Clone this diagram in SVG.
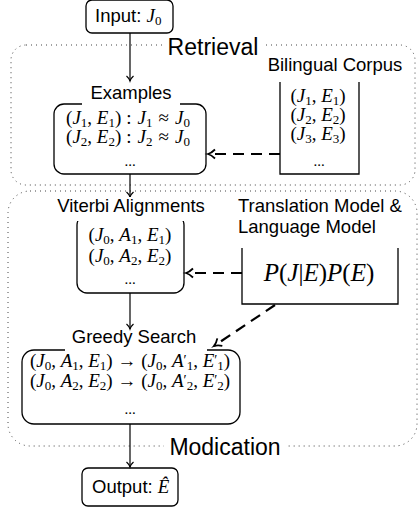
<svg xmlns="http://www.w3.org/2000/svg" width="419" height="509" viewBox="0 0 419 509">
<defs>
<style>
.lbl{font-family:"Liberation Sans",Arial,sans-serif;font-size:18.5px;fill:#000}
.big{font-size:23px}
.m{font-family:"Liberation Serif","Times New Roman",serif;font-size:19px;fill:#000}
.dots{font-size:15px}
.pje{font-size:25px}
.i{font-style:italic}
.s{font-size:13px}
.pr{font-size:14px}
.box{fill:none;stroke:#000;stroke-width:1.3}
.region{fill:none;stroke:#444;stroke-width:1;stroke-dasharray:1 4}
.bg{fill:#fff;stroke:none}
.arrow{fill:none;stroke:#000;stroke-width:1.2;marker-end:url(#ah)}
.dash{fill:none;stroke:#000;stroke-width:2.2;stroke-dasharray:11 7;marker-end:url(#ahd)}
</style>
<marker id="ah" markerUnits="userSpaceOnUse" viewBox="-7 -5 8 10" refX="0" refY="0" markerWidth="8" markerHeight="10" orient="auto" overflow="visible">
<path d="M-5,-3.5 C-3,-1.2 -1,-0.3 0,0 C-1,0.3 -3,1.2 -5,3.5" fill="none" stroke="#000" stroke-width="1.2"/>
</marker>
<marker id="ahd" markerUnits="userSpaceOnUse" viewBox="-9 -6 10 12" refX="0" refY="0" markerWidth="10" markerHeight="12" orient="auto" overflow="visible">
<path d="M-7,-4.5 C-4,-1.5 -1.5,-0.4 0,0 C-1.5,0.4 -4,1.5 -7,4.5" fill="none" stroke="#000" stroke-width="1.8" stroke-dasharray="none"/>
</marker>
</defs>
<rect width="419" height="509" fill="#fff"/>

<g id="region-retrieval">
<rect class="region" x="11" y="45" width="404" height="140" rx="15"/>
<rect class="bg" x="164" y="36" width="98" height="22"/>
<text class="lbl big" x="213" y="55" text-anchor="middle">Retrieval</text>
</g>
<g id="region-modication">
<rect class="region" x="8" y="191" width="409" height="255" rx="22"/>
<rect class="bg" x="164" y="436" width="122" height="24"/>
<text class="lbl big" x="225" y="455" text-anchor="middle">Modication</text>
</g>

<g id="connectors">
<path class="arrow" d="M130,33 V81"/>
<path class="arrow" d="M130,174 V197"/>
<path class="arrow" d="M130,293 V329"/>
<path class="arrow" d="M130,424 V467"/>
<path class="dash" d="M280,154 H208"/>
<path class="dash" d="M242,273 H186"/>
<path class="dash" d="M275,305 L214,346"/>
</g>

<g id="input">
<rect class="box" x="86" y="0" width="87" height="33" rx="6"/>
<text class="lbl" x="95" y="22">Input: <tspan class="m i">J</tspan><tspan class="m s" dy="3">0</tspan></text>
</g>

<g id="examples">
<path class="box" d="M82,104 H64 A10,10 0 0 0 54,114 V164 A10,10 0 0 0 64,174 H196 A10,10 0 0 0 206,164 V114 A10,10 0 0 0 196,104 H180"/>
<text class="lbl" x="131" y="99" text-anchor="middle">Examples</text>
<text class="m" x="128" y="124" text-anchor="middle">(<tspan class="i">J</tspan><tspan class="s" dy="3">1</tspan><tspan dy="-3">, </tspan><tspan class="i">E</tspan><tspan class="s" dy="3">1</tspan><tspan dy="-3">)</tspan><tspan dx="5">:</tspan><tspan dx="6" class="i">J</tspan><tspan class="s" dy="3">1</tspan><tspan dy="-3" dx="6">≈</tspan><tspan dx="6" class="i">J</tspan><tspan class="s" dy="3">0</tspan></text>
<text class="m" x="128" y="143" text-anchor="middle">(<tspan class="i">J</tspan><tspan class="s" dy="3">2</tspan><tspan dy="-3">, </tspan><tspan class="i">E</tspan><tspan class="s" dy="3">2</tspan><tspan dy="-3">)</tspan><tspan dx="5">:</tspan><tspan dx="6" class="i">J</tspan><tspan class="s" dy="3">2</tspan><tspan dy="-3" dx="6">≈</tspan><tspan dx="6" class="i">J</tspan><tspan class="s" dy="3">0</tspan></text>
<text class="m dots" x="130" y="166" text-anchor="middle">...</text>
</g>

<g id="corpus">
<path class="box" d="M280,82 V174 H359 V82"/>
<text class="lbl" x="335" y="71" text-anchor="middle">Bilingual Corpus</text>
<text class="m" x="318" y="102" text-anchor="middle">(<tspan class="i">J</tspan><tspan class="s" dy="3">1</tspan><tspan dy="-3">, </tspan><tspan class="i">E</tspan><tspan class="s" dy="3">1</tspan><tspan dy="-3">)</tspan></text>
<text class="m" x="318" y="121" text-anchor="middle">(<tspan class="i">J</tspan><tspan class="s" dy="3">2</tspan><tspan dy="-3">, </tspan><tspan class="i">E</tspan><tspan class="s" dy="3">2</tspan><tspan dy="-3">)</tspan></text>
<text class="m" x="318" y="140" text-anchor="middle">(<tspan class="i">J</tspan><tspan class="s" dy="3">3</tspan><tspan dy="-3">, </tspan><tspan class="i">E</tspan><tspan class="s" dy="3">3</tspan><tspan dy="-3">)</tspan></text>
<text class="m dots" x="319" y="166" text-anchor="middle">...</text>
</g>

<g id="viterbi">
<rect class="box" x="77" y="215" width="107" height="78" rx="10"/>
<rect class="bg" x="56" y="197" width="152" height="24"/>
<text class="lbl" x="131" y="212" text-anchor="middle">Viterbi Alignments</text>
<text class="m" x="130" y="241" text-anchor="middle">(<tspan class="i">J</tspan><tspan class="s" dy="3">0</tspan><tspan dy="-3">, </tspan><tspan class="i">A</tspan><tspan class="s" dy="3">1</tspan><tspan dy="-3">, </tspan><tspan class="i">E</tspan><tspan class="s" dy="3">1</tspan><tspan dy="-3">)</tspan></text>
<text class="m" x="130" y="262" text-anchor="middle">(<tspan class="i">J</tspan><tspan class="s" dy="3">0</tspan><tspan dy="-3">, </tspan><tspan class="i">A</tspan><tspan class="s" dy="3">2</tspan><tspan dy="-3">, </tspan><tspan class="i">E</tspan><tspan class="s" dy="3">2</tspan><tspan dy="-3">)</tspan></text>
<text class="m dots" x="130" y="284" text-anchor="middle">...</text>
</g>

<g id="model">
<path class="box" d="M242,248 V304 H398 V248"/>
<text class="lbl" x="238" y="212">Translation Model &amp;</text>
<text class="lbl" x="238" y="233">Language Model</text>
<text class="m pje" x="319" y="281" text-anchor="middle"><tspan class="i">P</tspan>(<tspan class="i">J</tspan>|<tspan class="i">E</tspan>)<tspan class="i">P</tspan>(<tspan class="i">E</tspan>)</text>
</g>

<g id="greedy">
<path class="box" d="M65,350 H34 A12,12 0 0 0 22,362 V412 A12,12 0 0 0 34,424 H228 A12,12 0 0 0 240,412 V362 A12,12 0 0 0 228,350 H207"/>
<text class="lbl" x="134" y="343" text-anchor="middle">Greedy Search</text>
<text class="m" x="130" y="367" text-anchor="middle">(<tspan class="i">J</tspan><tspan class="s" dy="3">0</tspan><tspan dy="-3">, </tspan><tspan class="i">A</tspan><tspan class="s" dy="3">1</tspan><tspan dy="-3">, </tspan><tspan class="i">E</tspan><tspan class="s" dy="3">1</tspan><tspan dy="-3">) → (</tspan><tspan class="i">J</tspan><tspan class="s" dy="3">0</tspan><tspan dy="-3">, </tspan><tspan class="i">A</tspan><tspan class="pr" dy="-2">′</tspan><tspan class="s" dy="5">1</tspan><tspan dy="-3">, </tspan><tspan class="i">E</tspan><tspan class="pr" dy="-2">′</tspan><tspan class="s" dy="5">1</tspan><tspan dy="-3">)</tspan></text>
<text class="m" x="130" y="387" text-anchor="middle">(<tspan class="i">J</tspan><tspan class="s" dy="3">0</tspan><tspan dy="-3">, </tspan><tspan class="i">A</tspan><tspan class="s" dy="3">2</tspan><tspan dy="-3">, </tspan><tspan class="i">E</tspan><tspan class="s" dy="3">2</tspan><tspan dy="-3">) → (</tspan><tspan class="i">J</tspan><tspan class="s" dy="3">0</tspan><tspan dy="-3">, </tspan><tspan class="i">A</tspan><tspan class="pr" dy="-2">′</tspan><tspan class="s" dy="5">2</tspan><tspan dy="-3">, </tspan><tspan class="i">E</tspan><tspan class="pr" dy="-2">′</tspan><tspan class="s" dy="5">2</tspan><tspan dy="-3">)</tspan></text>
<text class="m dots" x="130" y="414" text-anchor="middle">...</text>
</g>

<g id="output">
<rect class="box" x="82" y="468" width="96" height="38" rx="6"/>
<text class="lbl" x="92" y="493">Output: <tspan class="m i">Ê</tspan></text>
</g>
</svg>
